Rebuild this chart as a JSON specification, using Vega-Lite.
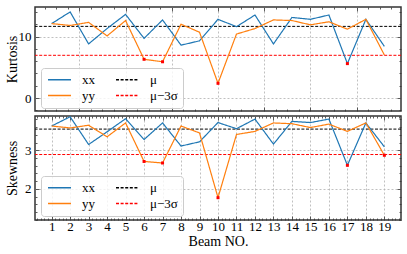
{
  "$schema": "https://vega.github.io/schema/vega-lite/v6.json",
  "padding": {"left": 4, "top": 5, "right": 0, "bottom": 0},
  "spacing": 0,
  "datasets": {
    "series": [
      {"beam": 1, "metric": "Kurtosis", "series": "xx", "value": 12.1},
      {"beam": 2, "metric": "Kurtosis", "series": "xx", "value": 14.0},
      {"beam": 3, "metric": "Kurtosis", "series": "xx", "value": 8.8},
      {"beam": 4, "metric": "Kurtosis", "series": "xx", "value": 11.3},
      {"beam": 5, "metric": "Kurtosis", "series": "xx", "value": 13.6},
      {"beam": 6, "metric": "Kurtosis", "series": "xx", "value": 9.7},
      {"beam": 7, "metric": "Kurtosis", "series": "xx", "value": 12.7},
      {"beam": 8, "metric": "Kurtosis", "series": "xx", "value": 8.6},
      {"beam": 9, "metric": "Kurtosis", "series": "xx", "value": 9.3},
      {"beam": 10, "metric": "Kurtosis", "series": "xx", "value": 12.8},
      {"beam": 11, "metric": "Kurtosis", "series": "xx", "value": 11.6},
      {"beam": 12, "metric": "Kurtosis", "series": "xx", "value": 13.5},
      {"beam": 13, "metric": "Kurtosis", "series": "xx", "value": 8.8},
      {"beam": 14, "metric": "Kurtosis", "series": "xx", "value": 13.1},
      {"beam": 15, "metric": "Kurtosis", "series": "xx", "value": 12.8},
      {"beam": 16, "metric": "Kurtosis", "series": "xx", "value": 13.5},
      {"beam": 17, "metric": "Kurtosis", "series": "xx", "value": 5.6},
      {"beam": 18, "metric": "Kurtosis", "series": "xx", "value": 12.8},
      {"beam": 19, "metric": "Kurtosis", "series": "xx", "value": 8.4},
      {"beam": 1, "metric": "Kurtosis", "series": "yy", "value": 12.1},
      {"beam": 2, "metric": "Kurtosis", "series": "yy", "value": 11.8},
      {"beam": 3, "metric": "Kurtosis", "series": "yy", "value": 12.3},
      {"beam": 4, "metric": "Kurtosis", "series": "yy", "value": 10.1},
      {"beam": 5, "metric": "Kurtosis", "series": "yy", "value": 12.6},
      {"beam": 6, "metric": "Kurtosis", "series": "yy", "value": 6.3},
      {"beam": 7, "metric": "Kurtosis", "series": "yy", "value": 5.9},
      {"beam": 8, "metric": "Kurtosis", "series": "yy", "value": 12.0},
      {"beam": 9, "metric": "Kurtosis", "series": "yy", "value": 10.7},
      {"beam": 10, "metric": "Kurtosis", "series": "yy", "value": 2.4},
      {"beam": 11, "metric": "Kurtosis", "series": "yy", "value": 10.4},
      {"beam": 12, "metric": "Kurtosis", "series": "yy", "value": 11.3},
      {"beam": 13, "metric": "Kurtosis", "series": "yy", "value": 12.7},
      {"beam": 14, "metric": "Kurtosis", "series": "yy", "value": 12.6},
      {"beam": 15, "metric": "Kurtosis", "series": "yy", "value": 11.9},
      {"beam": 16, "metric": "Kurtosis", "series": "yy", "value": 12.4},
      {"beam": 17, "metric": "Kurtosis", "series": "yy", "value": 11.2},
      {"beam": 18, "metric": "Kurtosis", "series": "yy", "value": 12.8},
      {"beam": 19, "metric": "Kurtosis", "series": "yy", "value": 7.0},
      {"beam": 1, "metric": "Skewness", "series": "xx", "value": 3.63},
      {"beam": 2, "metric": "Skewness", "series": "xx", "value": 3.87},
      {"beam": 3, "metric": "Skewness", "series": "xx", "value": 3.15},
      {"beam": 4, "metric": "Skewness", "series": "xx", "value": 3.48},
      {"beam": 5, "metric": "Skewness", "series": "xx", "value": 3.82},
      {"beam": 6, "metric": "Skewness", "series": "xx", "value": 3.28},
      {"beam": 7, "metric": "Skewness", "series": "xx", "value": 3.71},
      {"beam": 8, "metric": "Skewness", "series": "xx", "value": 3.11},
      {"beam": 9, "metric": "Skewness", "series": "xx", "value": 3.22},
      {"beam": 10, "metric": "Skewness", "series": "xx", "value": 3.72},
      {"beam": 11, "metric": "Skewness", "series": "xx", "value": 3.56},
      {"beam": 12, "metric": "Skewness", "series": "xx", "value": 3.81},
      {"beam": 13, "metric": "Skewness", "series": "xx", "value": 3.16},
      {"beam": 14, "metric": "Skewness", "series": "xx", "value": 3.75},
      {"beam": 15, "metric": "Skewness", "series": "xx", "value": 3.72},
      {"beam": 16, "metric": "Skewness", "series": "xx", "value": 3.81},
      {"beam": 17, "metric": "Skewness", "series": "xx", "value": 2.61},
      {"beam": 18, "metric": "Skewness", "series": "xx", "value": 3.71},
      {"beam": 19, "metric": "Skewness", "series": "xx", "value": 3.09},
      {"beam": 1, "metric": "Skewness", "series": "yy", "value": 3.63},
      {"beam": 2, "metric": "Skewness", "series": "yy", "value": 3.58},
      {"beam": 3, "metric": "Skewness", "series": "yy", "value": 3.65},
      {"beam": 4, "metric": "Skewness", "series": "yy", "value": 3.35},
      {"beam": 5, "metric": "Skewness", "series": "yy", "value": 3.71},
      {"beam": 6, "metric": "Skewness", "series": "yy", "value": 2.71},
      {"beam": 7, "metric": "Skewness", "series": "yy", "value": 2.67},
      {"beam": 8, "metric": "Skewness", "series": "yy", "value": 3.63},
      {"beam": 9, "metric": "Skewness", "series": "yy", "value": 3.45},
      {"beam": 10, "metric": "Skewness", "series": "yy", "value": 1.77},
      {"beam": 11, "metric": "Skewness", "series": "yy", "value": 3.41},
      {"beam": 12, "metric": "Skewness", "series": "yy", "value": 3.49},
      {"beam": 13, "metric": "Skewness", "series": "yy", "value": 3.71},
      {"beam": 14, "metric": "Skewness", "series": "yy", "value": 3.69},
      {"beam": 15, "metric": "Skewness", "series": "yy", "value": 3.59},
      {"beam": 16, "metric": "Skewness", "series": "yy", "value": 3.68},
      {"beam": 17, "metric": "Skewness", "series": "yy", "value": 3.49},
      {"beam": 18, "metric": "Skewness", "series": "yy", "value": 3.71},
      {"beam": 19, "metric": "Skewness", "series": "yy", "value": 2.87}
    ],
    "refs": [
      {"metric": "Kurtosis", "series": "μ", "value": 11.65},
      {"metric": "Kurtosis", "series": "μ−3σ", "value": 6.95},
      {"metric": "Skewness", "series": "μ", "value": 3.55},
      {"metric": "Skewness", "series": "μ−3σ", "value": 2.89}
    ]
  },
  "vconcat": [
    {
      "width": 366,
      "height": 104,
      "layer": [
        {
          "data": {"name": "refs"},
          "transform": [{"filter": "datum.metric === 'Kurtosis'"}],
          "mark": {"type": "rule", "strokeWidth": 1},
          "encoding": {
            "y": {"field": "value", "type": "quantitative", "scale": {"domain": [-2.1, 14.8], "nice": false, "zero": false}, "axis": null},
            "color": {"field": "series", "type": "nominal", "title": null,
              "scale": {"domain": ["xx", "yy", "μ", "μ−3σ"], "range": ["#1f77b4", "#ff7f0e", "#000000", "#ff0000"]},
              "legend": {"orient": "none", "legendX": 6, "legendY": 61, "columns": 2}},
            "strokeDash": {"field": "series", "type": "nominal", "title": null,
              "scale": {"domain": ["xx", "yy", "μ", "μ−3σ"], "range": [[1, 0], [1, 0], [3, 1.6], [3, 1.6]]},
              "legend": {"orient": "none", "legendX": 6, "legendY": 61, "columns": 2}}
          }
        },
        {
          "data": {"name": "series"},
          "transform": [{"filter": "datum.metric === 'Kurtosis'"}],
          "mark": {"type": "line", "strokeWidth": 1.2},
          "encoding": {
            "x": {"field": "beam", "type": "quantitative", "scale": {"domain": [0.1, 19.9], "nice": false, "zero": false},
              "axis": {"title": null, "labels": false, "values": [2.5, 5, 7.5, 10, 12.5, 15, 17.5], "grid": true}},
            "y": {"field": "value", "type": "quantitative", "scale": {"domain": [-2.1, 14.8], "nice": false, "zero": false},
              "axis": {"title": "Kurtosis", "values": [0, 10], "grid": true, "titleX": -23, "titleAngle": -90, "titleBaseline": "middle", "titleAlign": "center"}},
            "color": {"field": "series", "type": "nominal", "title": null,
              "scale": {"domain": ["xx", "yy", "μ", "μ−3σ"], "range": ["#1f77b4", "#ff7f0e", "#000000", "#ff0000"]},
              "legend": {"orient": "none", "legendX": 6, "legendY": 61, "columns": 2}},
            "strokeDash": {"field": "series", "type": "nominal", "title": null,
              "scale": {"domain": ["xx", "yy", "μ", "μ−3σ"], "range": [[1, 0], [1, 0], [3, 1.6], [3, 1.6]]},
              "legend": {"orient": "none", "legendX": 6, "legendY": 61, "columns": 2}}
          }
        },
        {
          "data": {"name": "series"},
          "transform": [{"filter": "datum.metric === 'Kurtosis' && datum.value < 6.95"}],
          "mark": {"type": "point", "shape": "square", "filled": true, "color": "#ff0000", "size": 9, "opacity": 1},
          "encoding": {
            "x": {"field": "beam", "type": "quantitative", "scale": {"domain": [0.1, 19.9], "nice": false, "zero": false}, "axis": null},
            "y": {"field": "value", "type": "quantitative", "scale": {"domain": [-2.1, 14.8], "nice": false, "zero": false}, "axis": null}
          }
        },
        {
          "data": {"name": "series"},
          "transform": [{"filter": "datum.metric === 'Kurtosis'"}],
          "mark": {"type": "point", "opacity": 0},
          "encoding": {
            "x": {"field": "beam", "type": "quantitative", "scale": {"domain": [0.1, 19.9], "nice": false, "zero": false},
              "axis": {"orient": "top", "title": null, "labels": false, "values": [2.5, 5, 7.5, 10, 12.5, 15, 17.5], "grid": false}},
            "y": {"field": "value", "type": "quantitative", "scale": {"domain": [-2.1, 14.8], "nice": false, "zero": false},
              "axis": {"orient": "right", "title": null, "labels": false, "values": [0, 10], "grid": false}}
          }
        },
        {
          "data": {"name": "series"},
          "transform": [{"filter": "datum.metric === 'Kurtosis'"}],
          "mark": {"type": "point", "opacity": 0},
          "encoding": {
            "x": {"field": "beam", "type": "quantitative", "scale": {"domain": [0.1, 19.9], "nice": false, "zero": false},
              "axis": {"orient": "bottom", "title": null, "labels": false, "tickSize": -2, "grid": false,
                "values": [0.625, 1.25, 1.875, 3.125, 3.75, 4.375, 5.625, 6.25, 6.875, 8.125, 8.75, 9.375, 10.625, 11.25, 11.875, 13.125, 13.75, 14.375, 15.625, 16.25, 16.875, 18.125, 18.75, 19.375]}},
            "y": {"field": "value", "type": "quantitative", "scale": {"domain": [-2.1, 14.8], "nice": false, "zero": false},
              "axis": {"orient": "left", "title": null, "labels": false, "tickSize": -2, "grid": false, "values": [-2, 2, 4, 6, 8, 12, 14]}}
          }
        },
        {
          "data": {"name": "series"},
          "transform": [{"filter": "datum.metric === 'Kurtosis'"}],
          "mark": {"type": "point", "opacity": 0},
          "encoding": {
            "x": {"field": "beam", "type": "quantitative", "scale": {"domain": [0.1, 19.9], "nice": false, "zero": false},
              "axis": {"orient": "top", "title": null, "labels": false, "tickSize": -2, "grid": false,
                "values": [0.625, 1.25, 1.875, 3.125, 3.75, 4.375, 5.625, 6.25, 6.875, 8.125, 8.75, 9.375, 10.625, 11.25, 11.875, 13.125, 13.75, 14.375, 15.625, 16.25, 16.875, 18.125, 18.75, 19.375]}},
            "y": {"field": "value", "type": "quantitative", "scale": {"domain": [-2.1, 14.8], "nice": false, "zero": false},
              "axis": {"orient": "right", "title": null, "labels": false, "tickSize": -2, "grid": false, "values": [-2, 2, 4, 6, 8, 12, 14]}}
          }
        }
      ],
      "resolve": {"axis": {"x": "independent", "y": "independent"}}
    },
    {
      "width": 366,
      "height": 104,
      "layer": [
        {
          "data": {"name": "refs"},
          "transform": [{"filter": "datum.metric === 'Skewness'"}],
          "mark": {"type": "rule", "strokeWidth": 1},
          "encoding": {
            "y": {"field": "value", "type": "quantitative", "scale": {"domain": [1.19, 3.89], "nice": false, "zero": false}, "axis": null},
            "color": {"field": "series", "type": "nominal", "title": null,
              "scale": {"domain": ["xx", "yy", "μ", "μ−3σ"], "range": ["#1f77b4", "#ff7f0e", "#000000", "#ff0000"]},
              "legend": {"orient": "none", "legendX": 6, "legendY": 60, "columns": 2}},
            "strokeDash": {"field": "series", "type": "nominal", "title": null,
              "scale": {"domain": ["xx", "yy", "μ", "μ−3σ"], "range": [[1, 0], [1, 0], [3, 1.6], [3, 1.6]]},
              "legend": {"orient": "none", "legendX": 6, "legendY": 60, "columns": 2}}
          }
        },
        {
          "data": {"name": "series"},
          "transform": [{"filter": "datum.metric === 'Skewness'"}],
          "mark": {"type": "line", "strokeWidth": 1.2},
          "encoding": {
            "x": {"field": "beam", "type": "quantitative", "scale": {"domain": [0.1, 19.9], "nice": false, "zero": false},
              "axis": {"title": "Beam NO.", "values": [1, 2, 3, 4, 5, 6, 7, 8, 9, 10, 11, 12, 13, 14, 15, 16, 17, 18, 19], "grid": true, "titlePadding": 1, "labelPadding": 4}},
            "y": {"field": "value", "type": "quantitative", "scale": {"domain": [1.19, 3.89], "nice": false, "zero": false},
              "axis": {"title": "Skewness", "values": [2, 3], "grid": true, "titleX": -23, "titleAngle": -90, "titleBaseline": "middle", "titleAlign": "center"}},
            "color": {"field": "series", "type": "nominal", "title": null,
              "scale": {"domain": ["xx", "yy", "μ", "μ−3σ"], "range": ["#1f77b4", "#ff7f0e", "#000000", "#ff0000"]},
              "legend": {"orient": "none", "legendX": 6, "legendY": 60, "columns": 2}},
            "strokeDash": {"field": "series", "type": "nominal", "title": null,
              "scale": {"domain": ["xx", "yy", "μ", "μ−3σ"], "range": [[1, 0], [1, 0], [3, 1.6], [3, 1.6]]},
              "legend": {"orient": "none", "legendX": 6, "legendY": 60, "columns": 2}}
          }
        },
        {
          "data": {"name": "series"},
          "transform": [{"filter": "datum.metric === 'Skewness' && datum.value < 2.89"}],
          "mark": {"type": "point", "shape": "square", "filled": true, "color": "#ff0000", "size": 9, "opacity": 1},
          "encoding": {
            "x": {"field": "beam", "type": "quantitative", "scale": {"domain": [0.1, 19.9], "nice": false, "zero": false}, "axis": null},
            "y": {"field": "value", "type": "quantitative", "scale": {"domain": [1.19, 3.89], "nice": false, "zero": false}, "axis": null}
          }
        },
        {
          "data": {"name": "series"},
          "transform": [{"filter": "datum.metric === 'Skewness'"}],
          "mark": {"type": "point", "opacity": 0},
          "encoding": {
            "x": {"field": "beam", "type": "quantitative", "scale": {"domain": [0.1, 19.9], "nice": false, "zero": false},
              "axis": {"orient": "top", "title": null, "labels": false, "values": [1, 2, 3, 4, 5, 6, 7, 8, 9, 10, 11, 12, 13, 14, 15, 16, 17, 18, 19], "grid": false}},
            "y": {"field": "value", "type": "quantitative", "scale": {"domain": [1.19, 3.89], "nice": false, "zero": false},
              "axis": {"orient": "right", "title": null, "labels": false, "values": [2, 3], "grid": false}}
          }
        },
        {
          "data": {"name": "series"},
          "transform": [{"filter": "datum.metric === 'Skewness'"}],
          "mark": {"type": "point", "opacity": 0},
          "encoding": {
            "x": {"field": "beam", "type": "quantitative", "scale": {"domain": [0.1, 19.9], "nice": false, "zero": false},
              "axis": {"orient": "bottom", "title": null, "labels": false, "tickSize": -2, "grid": false,
                "values": [0.2, 0.4, 0.6, 0.8, 1.2, 1.4, 1.6, 1.8, 2.2, 2.4, 2.6, 2.8, 3.2, 3.4, 3.6, 3.8, 4.2, 4.4, 4.6, 4.8, 5.2, 5.4, 5.6, 5.8, 6.2, 6.4, 6.6, 6.8, 7.2, 7.4, 7.6, 7.8, 8.2, 8.4, 8.6, 8.8, 9.2, 9.4, 9.6, 9.8, 10.2, 10.4, 10.6, 10.8, 11.2, 11.4, 11.6, 11.8, 12.2, 12.4, 12.6, 12.8, 13.2, 13.4, 13.6, 13.8, 14.2, 14.4, 14.6, 14.8, 15.2, 15.4, 15.6, 15.8, 16.2, 16.4, 16.6, 16.8, 17.2, 17.4, 17.6, 17.8, 18.2, 18.4, 18.6, 18.8, 19.2, 19.4, 19.6, 19.8]}},
            "y": {"field": "value", "type": "quantitative", "scale": {"domain": [1.19, 3.89], "nice": false, "zero": false},
              "axis": {"orient": "left", "title": null, "labels": false, "tickSize": -2, "grid": false, "values": [1.2, 1.4, 1.6, 1.8, 2.2, 2.4, 2.6, 2.8, 3.2, 3.4, 3.6, 3.8]}}
          }
        },
        {
          "data": {"name": "series"},
          "transform": [{"filter": "datum.metric === 'Skewness'"}],
          "mark": {"type": "point", "opacity": 0},
          "encoding": {
            "x": {"field": "beam", "type": "quantitative", "scale": {"domain": [0.1, 19.9], "nice": false, "zero": false},
              "axis": {"orient": "top", "title": null, "labels": false, "tickSize": -2, "grid": false,
                "values": [0.2, 0.4, 0.6, 0.8, 1.2, 1.4, 1.6, 1.8, 2.2, 2.4, 2.6, 2.8, 3.2, 3.4, 3.6, 3.8, 4.2, 4.4, 4.6, 4.8, 5.2, 5.4, 5.6, 5.8, 6.2, 6.4, 6.6, 6.8, 7.2, 7.4, 7.6, 7.8, 8.2, 8.4, 8.6, 8.8, 9.2, 9.4, 9.6, 9.8, 10.2, 10.4, 10.6, 10.8, 11.2, 11.4, 11.6, 11.8, 12.2, 12.4, 12.6, 12.8, 13.2, 13.4, 13.6, 13.8, 14.2, 14.4, 14.6, 14.8, 15.2, 15.4, 15.6, 15.8, 16.2, 16.4, 16.6, 16.8, 17.2, 17.4, 17.6, 17.8, 18.2, 18.4, 18.6, 18.8, 19.2, 19.4, 19.6, 19.8]}},
            "y": {"field": "value", "type": "quantitative", "scale": {"domain": [1.19, 3.89], "nice": false, "zero": false},
              "axis": {"orient": "right", "title": null, "labels": false, "tickSize": -2, "grid": false, "values": [1.2, 1.4, 1.6, 1.8, 2.2, 2.4, 2.6, 2.8, 3.2, 3.4, 3.6, 3.8]}}
          }
        }
      ],
      "resolve": {"axis": {"x": "independent", "y": "independent"}}
    }
  ],
  "resolve": {
    "scale": {"color": "independent", "strokeDash": "independent"},
    "legend": {"color": "independent", "strokeDash": "independent"}
  },
  "config": {
    "font": "Liberation Serif",
    "view": {"stroke": "#333333", "strokeWidth": 1.5},
    "axis": {
      "domain": false,
      "tickColor": "#333333",
      "tickWidth": 0.8,
      "tickSize": -4,
      "labelPadding": 8,
      "labelFontSize": 13,
      "labelColor": "#000000",
      "labelFont": "Liberation Serif",
      "labelOverlap": false,
      "labelFlush": false,
      "titleFont": "Liberation Serif",
      "titleFontSize": 14,
      "titleFontWeight": "normal",
      "titleColor": "#000000",
      "gridColor": "#b0b0b0",
      "gridDash": [2, 2],
      "gridWidth": 0.8
    },
    "legend": {
      "symbolType": "M-2,0H2",
      "symbolSize": 132,
      "symbolStrokeWidth": 1.5,
      "symbolOffset": 7,
      "labelFont": "Liberation Serif",
      "labelFontSize": 13,
      "labelColor": "#000000",
      "labelOffset": 16,
      "columnPadding": 18,
      "rowPadding": 2,
      "padding": 5,
      "fillColor": "rgba(255,255,255,0.8)",
      "strokeColor": "#cccccc",
      "cornerRadius": 3
    }
  }
}
